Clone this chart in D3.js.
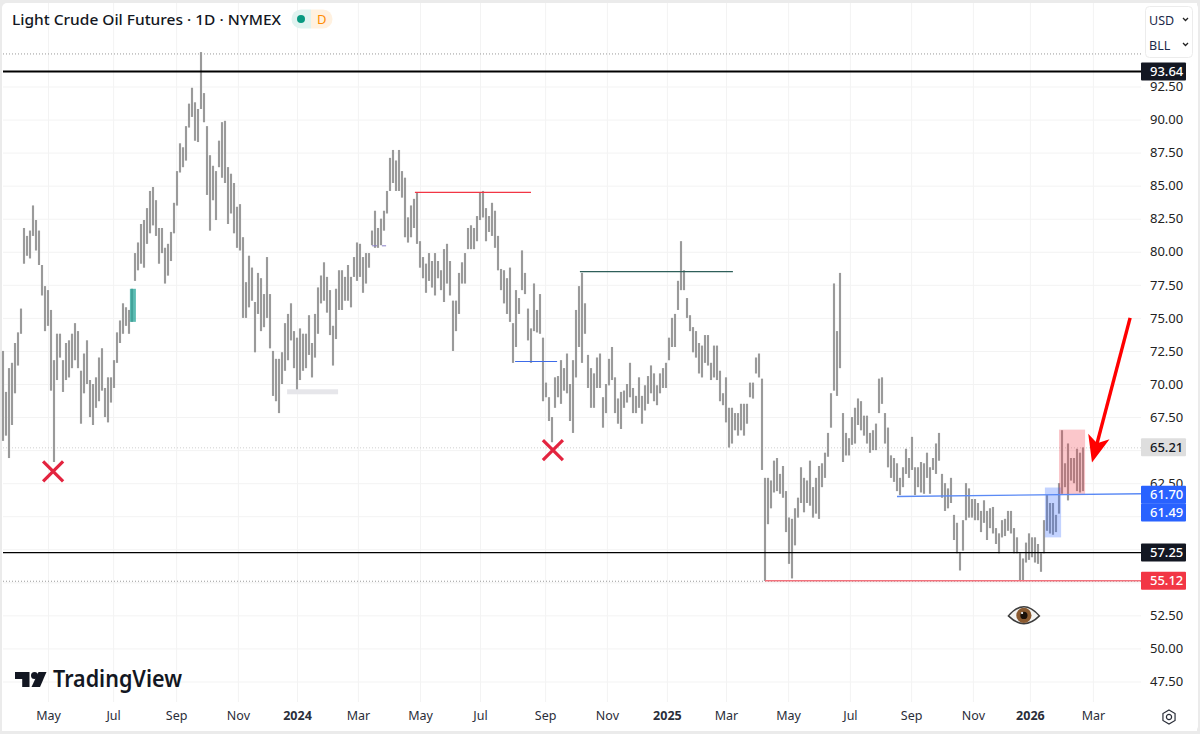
<!DOCTYPE html>
<html><head><meta charset="utf-8">
<style>
html,body{margin:0;padding:0;background:#fff;overflow:hidden}
svg{display:block}
text{font-family:"Noto Sans",Roboto,sans-serif}
</style>
<script src="https://cdnjs.cloudflare.com/ajax/libs/d3/7.8.5/d3.min.js"></script>
</head><body><svg id="c" width="1200" height="734"></svg>
<script>
// OHLC bar extents, resampled from the picture: one entry per bar slot
const highs=[
72.5,69.4,71.2,71.6,73.1,73.9,75.7,81.8,81.2,81.6,
83.5,82.4,81.6,79.0,77.4,77.1,75.6,71.8,73.8,73.8,
71.8,73.1,73.3,73.8,74.6,74.0,71.0,72.3,73.3,70.3,
70.0,70.5,72.0,72.7,69.7,70.5,70.5,71.8,73.9,74.8,
76.1,75.8,75.6,77.2,79.9,80.7,82.1,82.4,83.3,84.6,
84.9,83.9,81.8,81.8,80.3,80.6,81.5,83.7,86.1,88.2,
87.9,89.5,91.2,92.4,91.3,90.8,95.1,92.0,89.5,87.3,
86.5,86.1,88.4,89.8,89.9,86.4,85.9,85.2,83.4,83.6,
81.1,77.7,79.7,78.8,76.2,78.4,78.0,76.8,79.6,76.8,
72.5,71.9,71.9,72.4,74.6,75.3,76.1,74.0,73.5,74.2,
73.8,73.8,75.2,73.1,75.3,77.3,78.2,79.2,78.1,77.1,
74.4,77.2,78.6,78.6,78.1,79.0,78.1,79.6,80.7,80.6,
79.6,79.9,79.9,81.6,83.1,81.8,82.5,83.1,84.6,87.1,
87.7,86.9,87.7,86.1,85.6,82.6,83.5,84.0,84.5,80.8,
79.6,79.1,79.9,79.3,79.9,79.3,78.6,80.2,80.6,79.3,
76.3,76.3,78.4,79.2,79.9,81.8,82.0,81.8,82.7,84.5,
84.6,83.3,82.7,83.7,83.1,81.2,78.7,78.6,78.0,78.8,
74.6,77.1,76.5,80.1,78.4,75.7,74.2,77.6,75.6,76.8,
73.5,70.1,69.0,67.5,70.5,70.6,71.8,71.2,72.3,70.0,
71.8,75.6,77.4,78.4,76.1,72.2,71.2,70.8,72.0,72.3,
69.0,70.0,71.9,72.8,70.5,68.9,69.4,69.5,70.0,71.6,
69.7,69.1,70.5,69.1,69.9,70.6,71.4,70.8,69.9,70.8,
71.2,71.6,73.5,75.0,75.3,77.8,80.8,78.6,76.5,75.2,
74.3,74.0,73.1,72.9,73.7,73.7,71.6,72.9,72.9,71.0,
69.3,70.5,68.2,68.2,67.8,67.8,68.5,68.5,68.5,70.1,
70.1,72.0,72.3,70.4,62.9,62.9,62.7,64.2,64.4,63.2,
63.8,61.9,59.9,59.8,60.6,61.4,63.7,62.9,62.7,64.2,
62.2,62.9,63.8,64.0,64.8,66.3,69.3,77.6,74.0,78.4,
67.8,66.3,65.9,67.5,68.2,68.9,68.7,67.6,67.6,66.3,
66.5,67.0,70.4,70.5,67.8,66.7,64.6,64.4,64.0,62.9,
63.7,65.1,64.4,66.0,63.7,63.7,64.1,64.0,64.8,63.7,
64.4,65.5,66.3,63.2,62.5,62.1,62.9,60.1,59.5,57.3,
59.7,62.5,62.1,61.3,61.3,61.0,60.4,61.2,60.4,60.6,
60.7,59.1,58.7,59.7,59.8,60.4,60.4,59.1,58.4,57.2,
56.8,58.0,58.7,58.4,58.4,57.9,57.2,59.7,61.6,61.0,
61.0,60.1,62.5,66.5,64.0,65.5,64.4,64.4,65.1,64.8,65.2];
const lows=[
65.7,66.1,64.4,66.9,69.3,71.4,73.8,79.1,79.7,79.5,
81.2,80.1,79.0,76.7,74.0,74.4,69.5,64.1,70.3,72.0,
69.4,70.3,70.5,71.2,71.8,71.2,67.0,69.3,70.0,67.5,
66.9,68.2,68.7,69.5,67.5,67.1,68.6,69.7,71.6,73.1,
73.8,74.4,73.8,74.7,77.8,78.6,79.1,78.8,80.6,81.4,
82.0,81.2,79.1,79.9,77.6,78.2,79.3,81.4,83.5,86.0,
86.4,86.9,89.4,90.2,88.4,88.3,90.8,89.8,84.3,81.6,
83.9,82.4,86.4,85.6,85.2,82.1,82.9,81.4,80.3,80.1,
75.0,75.0,75.8,76.3,72.4,75.3,74.0,74.3,75.0,72.7,
69.1,68.7,67.8,70.0,71.0,71.8,73.3,71.2,69.4,70.3,
71.0,71.2,72.2,70.5,72.0,73.8,76.1,76.3,75.4,73.7,
71.4,73.4,75.6,75.6,76.3,76.3,75.8,78.1,77.8,78.1,
76.9,77.6,78.8,80.5,80.3,80.3,80.5,81.6,82.9,84.6,
85.2,84.6,84.6,84.1,81.1,80.7,81.1,81.8,80.6,78.8,
78.0,76.9,77.8,77.3,76.7,78.0,77.1,76.2,77.6,76.7,
72.5,74.0,75.3,77.6,77.6,80.2,80.2,80.2,80.8,82.4,
82.6,80.8,81.5,81.2,80.3,78.6,77.1,76.1,75.3,74.7,
71.6,72.8,75.3,77.1,76.8,73.3,71.6,74.0,73.9,73.8,
68.7,69.0,67.2,65.6,68.2,69.0,68.5,69.5,69.3,67.2,
66.3,70.5,72.8,71.6,73.8,69.7,68.2,68.2,69.7,69.7,
66.7,67.8,69.9,70.3,67.8,67.0,66.6,68.2,68.6,69.0,
67.8,67.8,68.2,67.0,68.0,68.5,69.3,68.7,68.4,69.3,
69.7,69.7,71.8,72.8,72.8,75.6,77.1,77.1,75.0,74.0,
72.4,72.0,70.8,70.5,71.6,71.4,70.3,70.5,70.3,68.7,
68.4,67.1,65.2,65.5,66.5,66.1,66.5,66.1,67.0,69.0,
68.9,70.8,70.5,63.5,55.1,59.4,60.6,61.8,61.9,61.7,
61.4,58.8,56.4,55.3,57.8,59.9,61.0,60.3,61.0,60.8,
59.9,60.2,59.8,62.2,62.9,64.5,66.7,69.5,69.1,71.2,
64.1,64.6,64.6,65.4,65.5,66.9,66.5,66.1,65.5,64.8,
65.0,65.0,67.8,68.5,65.5,63.7,62.9,62.6,61.9,61.6,
62.2,63.2,62.9,63.5,61.6,62.2,61.8,61.7,62.9,61.7,
63.5,63.2,64.2,61.4,60.4,60.6,61.0,58.2,57.2,55.9,
57.4,59.7,59.9,59.9,59.7,59.7,58.8,59.5,58.2,59.1,
58.7,57.9,57.2,58.4,58.5,58.9,58.7,57.2,57.2,55.1,
55.1,56.5,56.7,56.9,56.5,56.4,55.8,57.2,58.9,58.7,
58.6,58.8,60.2,61.7,62.2,61.2,62.7,62.5,61.9,61.8,61.9];

const gridPrices=[92.5,90,87.5,85,82.5,80,77.5,75,72.5,70,67.5,65,62.5,60,57.5,55,52.5,50,47.5];
const priceTicks=[92.5,90,87.5,85,82.5,80,77.5,75,72.5,70,67.5,62.5,52.5,50,47.5];
const monthSlots=[15,36.7,57.7,78.3,98,118.3,139,159,180.7,201.3,221.3,241,261.7,282.3,302.7,323.3,342.3,363.3];
const monthLabels=["May","Jul","Sep","Nov","2024","Mar","May","Jul","Sep","Nov","2025","Mar","May","Jul","Sep","Nov","2026","Mar"];
const boldLabels=["2024","2025","2026"];

const levelFull=[93.64,57.25];               // solid black levels
const levelDotted=[95.0,65.21,55.12];        // dotted price lines
const redFrom=[254.0], redLevel=[55.12];
const blueTrend=[[298,61.49],[378.7,61.70]];
const segSlots=[[137.3,176],[192.3,243.3],[170.7,184.7]];
const segPrices=[84.5,78.5,71.7];
const segColors=["#f23645","#2f5f5a","#3d6be8"];
const tagValues=["93.64","65.21","61.70","61.49","57.25","55.12"];
const tagPrices=[93.64,65.21,61.70,61.49,57.25,55.12];
const tagNudge=[0,0,1,16,0,0];
const tagFill=["#131722","#dedede","#2962ff","#2962ff","#131722","#f23645"];
const tagText=["#fff","#131722","#fff","#fff","#fff","#fff"];
const boxSlots=[[42.3,44.3],[347.3,352.7],[352,360.7]];
const boxPrices=[[77.2,74.7],[62.17,58.4],[66.55,61.64]];
const boxFill=["#26a69a","#2962ff","#f23645"];
const boxAlpha=[.75,.28,.28];
const crossSlots=[16.7,183.3], crossPrices=[63.4,65.0];
const arrowSlots=[375.7,363], arrowPrices=[75.0,64.06];
const eyeSlot=[340.3], eyePrice=[52.5];

const svg=d3.select("#c");
const x=d3.scaleLinear().domain([0,360]).range([3,1083]);
const y=d3.scaleLinear().domain([92.5,47.5]).range([86.5,681.5]);
const L=3,R=1141,B=702;

// frame
svg.append("rect").attr("width",1200).attr("height",734).attr("fill","#ebebeb");
svg.append("rect").attr("x",2).attr("y",3).attr("width",1196).attr("height",728).attr("rx",5).attr("fill","#fff");

// grid via axes
const gy=svg.append("g").attr("transform",`translate(${L},0)`)
  .call(d3.axisRight(y).tickValues(gridPrices).tickSize(R-L).tickFormat(""));
const gx=svg.append("g").attr("transform",`translate(0,${B})`)
  .call(d3.axisTop(x).tickValues(monthSlots).tickSize(B-3).tickFormat(""));
[gy,gx].forEach(g=>{g.select(".domain").remove();g.selectAll("line").attr("stroke","#f3f3f3");});

// dotted
svg.append("g").selectAll("line").data(levelDotted).join("line")
  .attr("x1",L).attr("x2",R).attr("y1",d=>y(d)+.5).attr("y2",d=>y(d)+.5)
  .attr("stroke",(d,i)=>i==1?"#cfcfcf":"#9a9a9a").attr("stroke-width",1).attr("stroke-dasharray","1 2");

// bars: soft body plus thin darker core
svg.append("g").selectAll("line").data(highs).join("line")
  .attr("x1",(d,i)=>x(i)).attr("x2",(d,i)=>x(i))
  .attr("y1",d=>y(d)).attr("y2",(d,i)=>y(lows[i]))
  .attr("stroke","#b4b4b4").attr("stroke-width",2.2);
svg.append("g").selectAll("line").data(highs).join("line")
  .attr("x1",(d,i)=>x(i)).attr("x2",(d,i)=>x(i))
  .attr("y1",d=>y(d)).attr("y2",(d,i)=>y(lows[i]))
  .attr("stroke","#747474").attr("stroke-width",.8);

// boxes
svg.append("g").selectAll("rect").data(boxSlots).join("rect")
  .attr("x",d=>x(d[0])).attr("width",d=>x(d[1])-x(d[0]))
  .attr("y",(d,i)=>y(boxPrices[i][0])).attr("height",(d,i)=>y(boxPrices[i][1])-y(boxPrices[i][0]))
  .attr("fill",(d,i)=>boxFill[i]).attr("opacity",(d,i)=>boxAlpha[i]);

// highlight strip and small ticks
svg.append("rect").attr("x",x(94.7)).attr("width",x(111.7)-x(94.7)).attr("y",y(69.6)).attr("height",5).attr("fill","#e6e6ea");
svg.append("g").selectAll("line").data([[123,124.7],[126.3,127.7]]).join("line")
  .attr("x1",d=>x(d[0])).attr("x2",d=>x(d[1])).attr("y1",y(80.45)).attr("y2",y(80.45)).attr("stroke","#8a7fc8");

// levels
svg.append("g").selectAll("line").data(levelFull).join("line")
  .attr("x1",L).attr("x2",R).attr("y1",d=>y(d)).attr("y2",d=>y(d))
  .attr("stroke","#000").attr("stroke-width",(d,i)=>i==0?2:1.3);
svg.append("line").attr("x1",x(redFrom[0])).attr("x2",R).attr("y1",y(redLevel[0])).attr("y2",y(redLevel[0]))
  .attr("stroke","#f2727d").attr("stroke-width",1.5);
svg.append("line").attr("x1",x(blueTrend[0][0])).attr("x2",R)
  .attr("y1",y(blueTrend[0][1])).attr("y2",y(blueTrend[1][1]))
  .attr("stroke","#5b8af5").attr("stroke-width",1.4);
svg.append("g").selectAll("line").data(segSlots).join("line")
  .attr("x1",d=>x(d[0])).attr("x2",d=>x(d[1]))
  .attr("y1",(d,i)=>y(segPrices[i])).attr("y2",(d,i)=>y(segPrices[i]))
  .attr("stroke",(d,i)=>segColors[i]).attr("stroke-width",1.2);

// crosses
svg.append("g").selectAll("path").data(crossSlots).join("path")
  .attr("transform",(d,i)=>`translate(${x(d)},${y(crossPrices[i])})`)
  .attr("d","M-10,-10L10,10M10,-10L-10,10").attr("stroke","#e3243f").attr("stroke-width",3.2).attr("fill","none");

// arrow
const ax0=x(arrowSlots[0]),ay0=y(arrowPrices[0]),ax1=x(arrowSlots[1]),ay1=y(arrowPrices[1]);
const ang=Math.atan2(ay1-ay0,ax1-ax0);
const arrow=svg.append("g").attr("transform",`translate(${ax1},${ay1}) rotate(${ang*180/Math.PI})`);
const len=Math.hypot(ax1-ax0,ay1-ay0);
arrow.append("line").attr("x1",-len).attr("x2",-14).attr("stroke","#ff0000").attr("stroke-width",3.4);
arrow.append("path").attr("d","M0,0L-27,-11L-20,0L-27,11Z").attr("fill","#ff0000");

// eye
const eye=svg.append("g").attr("transform",`translate(${x(eyeSlot[0])},${y(eyePrice[0])})`);
eye.append("path").attr("d","M-15.5,0.5Q0,-18 15.5,0.5Q0,16 -15.5,0.5Z").attr("fill","#f4f4f2").attr("stroke","#3c3c3c").attr("stroke-width",1.5);
eye.append("circle").attr("r",7.6).attr("fill","#8a5a30");
eye.append("circle").attr("r",3.6).attr("fill","#1a1008");
eye.append("circle").attr("cx",-1.8).attr("cy",-2.4).attr("r",1.1).attr("fill","#fff");

// right and bottom axes panels
svg.append("rect").attr("x",R).attr("y",3).attr("width",56).attr("height",728).attr("fill","#fff");
svg.append("rect").attr("x",2).attr("y",B).attr("width",1139).attr("height",29).attr("fill","#fff");

const ya=svg.append("g").attr("transform",`translate(${R},0)`)
  .call(d3.axisRight(y).tickValues(priceTicks).tickSize(0).tickPadding(9).tickFormat(d3.format(".2f")));
ya.select(".domain").remove();
ya.selectAll("text").attr("font-size",13).attr("fill","#222").attr("font-family","'Noto Sans'");

const xa=svg.append("g").attr("transform",`translate(0,${B})`)
  .call(d3.axisBottom(x).tickValues(monthSlots).tickSize(0).tickPadding(9)
    .tickFormat((d,i)=>monthLabels[i]));
xa.select(".domain").remove();
xa.selectAll("text").attr("font-size",12.5).attr("fill","#2a2e39").attr("font-family","'Noto Sans'")
  .attr("font-weight",(d,i)=>boldLabels.includes(monthLabels[i])?700:400);

// price tags
const tg=svg.append("g").selectAll("g").data(tagValues).join("g")
  .attr("transform",(d,i)=>`translate(${R},${y(tagPrices[i])+tagNudge[i]})`);
tg.append("rect").attr("x",0).attr("y",-9).attr("width",45).attr("height",18).attr("rx",1)
  .attr("fill",(d,i)=>tagFill[i]);
tg.append("text").attr("x",9).attr("y",4.6).attr("font-size",13).attr("font-weight",500)
  .attr("fill",(d,i)=>tagText[i]).text(d=>d);

// title
svg.append("text").attr("x",12).attr("y",25).attr("font-size",15).attr("font-weight",500).attr("fill","#131722")
  .attr("textLength",269).attr("lengthAdjust","spacingAndGlyphs").text("Light Crude Oil Futures · 1D · NYMEX");
svg.append("path").attr("d","M301,9.5h10v19h-10a9.5,9.5 0 0 1 0,-19Z").attr("fill","#e0f3f0");
svg.append("path").attr("d","M311,9.5h12a9.5,9.5 0 0 1 0,19h-12Z").attr("fill","#fff1e0");
svg.append("circle").attr("cx",301).attr("cy",19).attr("r",4).attr("fill","#089981");
svg.append("text").attr("x",317).attr("y",24).attr("font-size",13).attr("fill","#ff8c00").text("D");

// currency / unit box
svg.append("rect").attr("x",1145.5).attr("y",6.5).attr("width",47).attr("height",51).attr("rx",4).attr("fill","#fff").attr("stroke","#ececec");
[["USD",25],["BLL",50]].forEach(([t,yy])=>{
  svg.append("text").attr("x",1149).attr("y",yy).attr("font-size",12.5).attr("fill","#1b2a4a").text(t);
  svg.append("path").attr("d",`M${1183},${yy-7}l2.5,2.5l2.5,-2.5`).attr("fill","none").attr("stroke","#222").attr("stroke-width",1.3);
});

// logo
const logo=svg.append("g").attr("transform","translate(15,672)").attr("fill","#131722");
logo.append("path").attr("d","M0,0H14.5V15H7.2V7H0Z");
logo.append("circle").attr("cx",19.5).attr("cy",3.5).attr("r",3.5);
logo.append("path").attr("d","M23.5,0H31.5L25,15H16.5Z");
svg.append("text").attr("x",53).attr("y",687).attr("font-family","Inter,'Noto Sans'").attr("font-size",22.5)
  .attr("font-weight",600).attr("fill","#131722").attr("textLength",129).attr("lengthAdjust","spacingAndGlyphs").text("TradingView");

// settings gear
const gear=svg.append("g").attr("transform","translate(1169,717)").attr("fill","none").attr("stroke","#2a2e39").attr("stroke-width",1.2);
gear.append("path").attr("d",d3.range(6).map(i=>{const a=Math.PI/3*i-Math.PI/2;return (i?"L":"M")+(7*Math.cos(a)).toFixed(2)+","+(7*Math.sin(a)).toFixed(2);}).join("")+"Z");
gear.append("circle").attr("r",2.6);
</script></body></html>
